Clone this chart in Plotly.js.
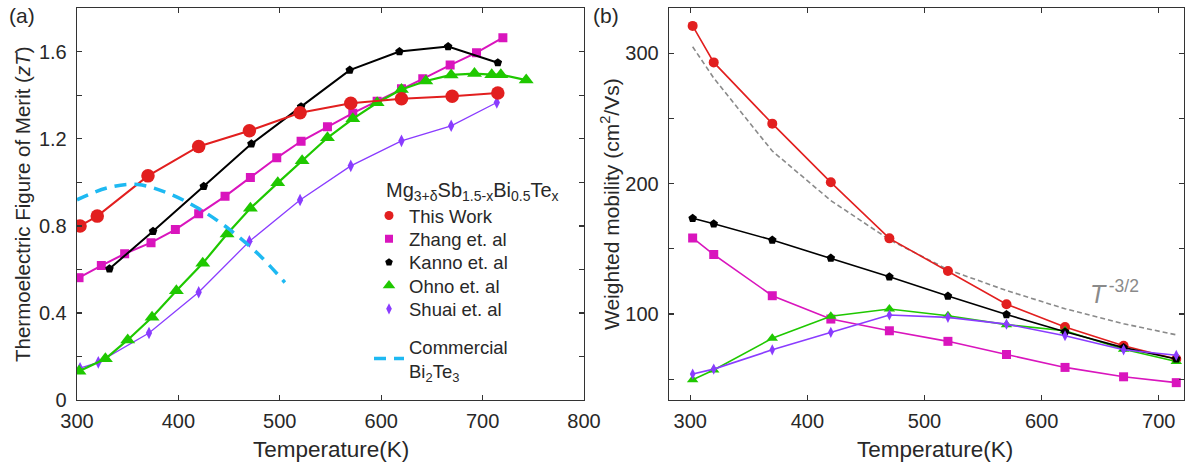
<!DOCTYPE html>
<html>
<head>
<meta charset="utf-8">
<script src="https://cdn.plot.ly/plotly-3.0.1.min.js"></script>
<style>html,body{margin:0;padding:0;background:#fff;} #chart{width:1200px;height:468px;}</style>
</head>
<body>
<div id="chart"></div>
<script>
// ---------- Panel (a): zT vs temperature ----------
const tThisWork = [303, 320, 370, 420, 470, 520, 570, 620, 670, 715];
const ztThisWork = [0.80, 0.845, 1.03, 1.165, 1.237, 1.32, 1.364, 1.384, 1.396, 1.411];

const tZhang = [302, 324, 347, 373, 397, 420, 446, 471, 497, 521, 547, 572, 596, 620, 641, 668, 694, 720];
const ztZhang = [0.562, 0.618, 0.672, 0.723, 0.783, 0.856, 0.936, 1.023, 1.113, 1.189, 1.256, 1.318, 1.373, 1.43, 1.476, 1.539, 1.596, 1.665];

const tKanno = [332, 375, 425, 472, 521, 569, 618, 666, 715];
const ztKanno = [0.603, 0.775, 0.982, 1.177, 1.348, 1.516, 1.601, 1.624, 1.55];

const tOhno = [302, 328, 350, 374, 398, 424, 448, 471, 498, 522, 547, 572, 596, 620, 644, 669, 692, 709, 718, 743];
const ztOhno = [0.132, 0.189, 0.276, 0.38, 0.502, 0.628, 0.763, 0.881, 0.998, 1.1, 1.205, 1.292, 1.366, 1.427, 1.466, 1.494, 1.5, 1.495, 1.495, 1.47];

const tShuai = [303, 321, 371, 420, 470, 520, 570, 620, 669, 714];
const ztShuai = [0.146, 0.173, 0.308, 0.495, 0.729, 0.919, 1.076, 1.191, 1.26, 1.367];

const tBi2Te3 = [300, 330, 360, 390, 420, 450, 480, 505];
const ztBi2Te3 = [0.92, 0.975, 0.99, 0.95, 0.88, 0.785, 0.665, 0.54];

// ---------- Panel (b): weighted mobility vs temperature ----------
const tMobility = [302, 320, 370, 420, 470, 520, 570, 620, 670, 715];
const muThisWork = [321, 293, 246, 201, 158, 133, 107.5, 90, 75.6, 65.4];
const muKanno = [173.4, 169.2, 156.7, 142.9, 128.5, 113.7, 99.6, 86.3, 74.2, 65.5];
const muZhang = [158.3, 145.6, 114, 96.1, 87.1, 79, 68.9, 59, 51.8, 47.3];
const muOhno = [49.5, 57, 81.3, 98.2, 103.8, 98.6, 91.8, 87.1, 73, 63.6];
const muShuai = [53.9, 57.7, 72.5, 85.9, 99.2, 97.4, 92.2, 83.3, 72.5, 68.3];
const muPowerLaw = [305, 281, 225, 187, 157, 134, 118, 104, 92.5, 84];

// ---------- Tick labels ----------
const ztTickVals = [0, 0.4, 0.8, 1.2, 1.6];
const ztTickText = ['0', '0.4', '0.8', '1.2', '1.6'];
const ztMinorVals = [0.2, 0.6, 1.0, 1.4];
const tTickValsA = [300, 400, 500, 600, 700, 800];
const tTickTextA = ['300', '400', '500', '600', '700', '800'];
const muTickVals = [100, 200, 300];
const muTickText = ['100', '200', '300'];
const muMinorVals = [50, 150, 250];
const tTickValsB = [300, 400, 500, 600, 700];
const tTickTextB = ['300', '400', '500', '600', '700'];

// ---------- Legend names ----------
const legendNames = ['This Work', 'Zhang et. al', 'Kanno et. al', 'Ohno et. al', 'Shuai et. al', 'Commercial<br>Bi<sub>2</sub>Te<sub>3</sub>'];
const legendTitle = 'Mg<sub>3+δ</sub>Sb<sub>1.5-x</sub>Bi<sub>0.5</sub>Te<sub>x</sub>';

const RED = '#e21f1f', MAG = '#d915bd', BLK = '#000000', GRN = '#1fc800', PUR = '#8a3cff', CYA = '#1eb9f2', GRY = '#8a8a8a';
const FONT = 'Liberation Sans, Arial, sans-serif';
const TXT = '#282828';

function tr(x, y, color, symbol, size, lw, xa, ya) {
  return {x: x, y: y, mode: 'lines+markers', xaxis: xa, yaxis: ya, showlegend: false,
    line: {color: color, width: lw}, marker: {color: color, symbol: symbol, size: size, line: {width: 0}}};
}
function lg(name, color, symbol, size, legendId) {
  return {x: [null], y: [null], mode: 'markers', name: name, legend: legendId, showlegend: true,
    xaxis: 'x', yaxis: 'y', marker: {color: color, symbol: symbol, size: size, line: {width: 0}}};
}

const data = [
  // panel a
  tr(tShuai, ztShuai, PUR, 'diamond-tall', 9, 1.3, 'x', 'y'),
  tr(tZhang, ztZhang, MAG, 'square', 9, 2, 'x', 'y'),
  tr(tOhno, ztOhno, GRN, 'triangle-up', 13, 2.2, 'x', 'y'),
  tr(tKanno, ztKanno, BLK, 'pentagon', 9, 2, 'x', 'y'),
  tr(tThisWork, ztThisWork, RED, 'circle', 13.5, 2, 'x', 'y'),
  {x: tBi2Te3, y: ztBi2Te3, mode: 'lines', xaxis: 'x', yaxis: 'y', showlegend: false,
   line: {color: CYA, width: 3.5, dash: '12px,8px', shape: 'spline'}},
  // panel b
  {x: tMobility, y: muPowerLaw, mode: 'lines', xaxis: 'x2', yaxis: 'y2', showlegend: false,
   line: {color: GRY, width: 1.6, dash: '5px,3px'}},
  tr(tMobility, muZhang, MAG, 'square', 9, 1.6, 'x2', 'y2'),
  tr(tMobility, muThisWork, RED, 'circle', 10, 1.6, 'x2', 'y2'),
  tr(tMobility, muOhno, GRN, 'triangle-up', 10, 1.6, 'x2', 'y2'),
  tr(tMobility, muKanno, BLK, 'pentagon', 9, 1.6, 'x2', 'y2'),
  tr(tMobility, muShuai, PUR, 'diamond-tall', 8, 1.6, 'x2', 'y2'),
  // legend entries (one legend box per entry so the spacing follows the reference)
  lg(legendNames[0], RED, 'circle', 9, 'legend'),
  lg(legendNames[1], MAG, 'square', 8, 'legend2'),
  lg(legendNames[2], BLK, 'pentagon', 8, 'legend3'),
  lg(legendNames[3], GRN, 'triangle-up', 11, 'legend4'),
  lg(legendNames[4], PUR, 'diamond-tall', 8, 'legend5'),
  {x: [null], y: [null], mode: 'lines', name: legendNames[5], legend: 'legend6', showlegend: true,
   xaxis: 'x', yaxis: 'y', line: {color: CYA, width: 3.5, dash: '12px,8px'}}
];

const axisCommon = {
  showline: true, linecolor: '#333', linewidth: 1.3, mirror: 'ticks',
  ticks: 'inside', ticklen: 5, tickwidth: 1.2, tickcolor: '#333',
  showgrid: false, zeroline: false, tickmode: 'array',
  tickfont: {family: FONT, size: 20, color: TXT}
};
const minorCommon = {ticks: 'inside', ticklen: 5, tickwidth: 1.2, tickcolor: '#333', showgrid: false};

const yTop = 1 - 8.3 / 468, yBot = 1 - 400 / 468;

function legendBox(topPx) {
  return {x: 369 / 1200, xanchor: 'left', y: 1 - topPx / 468, yanchor: 'top',
    bgcolor: 'rgba(0,0,0,0)', borderwidth: 0,
    font: {family: FONT, size: 18.5, color: TXT}};
}

const layout = {
  width: 1200, height: 468,
  margin: {l: 0, r: 0, t: 0, b: 0},
  paper_bgcolor: '#fff', plot_bgcolor: '#fff',
  font: {family: FONT, color: TXT},
  xaxis: Object.assign({}, axisCommon, {domain: [77 / 1200, 584 / 1200], range: [300, 800], anchor: 'y',
    tickvals: tTickValsA, ticktext: tTickTextA, ticklabelstandoff: 3}),
  yaxis: Object.assign({}, axisCommon, {domain: [yBot, yTop], range: [0, 1.8], anchor: 'x',
    tickvals: ztTickVals, ticktext: ztTickText, ticklabelstandoff: 5,
    minor: Object.assign({tickvals: ztMinorVals}, minorCommon)}),
  xaxis2: Object.assign({}, axisCommon, {domain: [669 / 1200, 1184 / 1200], range: [281.8, 721.6], anchor: 'y2',
    tickvals: tTickValsB, ticktext: tTickTextB, ticklabelstandoff: 3}),
  yaxis2: Object.assign({}, axisCommon, {domain: [yBot, yTop], range: [34.0, 334.5], anchor: 'x2',
    tickvals: muTickVals, ticktext: muTickText, ticklabelstandoff: 5,
    minor: Object.assign({tickvals: muMinorVals}, minorCommon)}),
  showlegend: true,
  legend: legendBox(197),
  legend2: legendBox(220.3),
  legend3: legendBox(243.7),
  legend4: legendBox(267),
  legend5: legendBox(290.3),
  legend6: legendBox(328),
  annotations: [
    {text: '(a)', xref: 'paper', yref: 'paper', x: 21.5 / 1200, y: 1 - 16 / 468, xanchor: 'center', yanchor: 'middle',
     showarrow: false, font: {family: FONT, size: 21, color: TXT}},
    {text: '(b)', xref: 'paper', yref: 'paper', x: 606 / 1200, y: 1 - 16 / 468, xanchor: 'center', yanchor: 'middle',
     showarrow: false, font: {family: FONT, size: 21, color: TXT}},
    {text: 'Temperature(K)', xref: 'paper', yref: 'paper', x: 331 / 1200, y: 1 - 449 / 468, xanchor: 'center', yanchor: 'middle',
     showarrow: false, font: {family: FONT, size: 22.5, color: TXT}},
    {text: 'Temperature(K)', xref: 'paper', yref: 'paper', x: 935 / 1200, y: 1 - 449 / 468, xanchor: 'center', yanchor: 'middle',
     showarrow: false, font: {family: FONT, size: 22.5, color: TXT}},
    {text: 'Thermoelectric Figure of Merit (<i>zT</i>)', xref: 'paper', yref: 'paper', x: 22 / 1200, y: 1 - 204 / 468,
     xanchor: 'center', yanchor: 'middle', textangle: -90, showarrow: false, font: {family: FONT, size: 20.5, color: TXT}},
    {text: 'Weighted mobility (cm<sup>2</sup>/Vs)', xref: 'paper', yref: 'paper', x: 610 / 1200, y: 1 - 204 / 468,
     xanchor: 'center', yanchor: 'middle', textangle: -90, showarrow: false, font: {family: FONT, size: 21, color: TXT}},
    {text: legendTitle, xref: 'paper', yref: 'paper',
     x: 384 / 1200, y: 1 - 191 / 468, xanchor: 'left', yanchor: 'middle', showarrow: false,
     font: {family: FONT, size: 20, color: TXT}},
    {text: '<i>T</i><sup>\u2009-3/2</sup>', xref: 'paper', yref: 'paper', x: 1088 / 1200, y: 1 - 292 / 468,
     xanchor: 'left', yanchor: 'middle', showarrow: false, font: {family: FONT, size: 25, color: GRY}}
  ]
};

Plotly.newPlot('chart', data, layout, {displayModeBar: false, staticPlot: true});
</script>
</body>
</html>
